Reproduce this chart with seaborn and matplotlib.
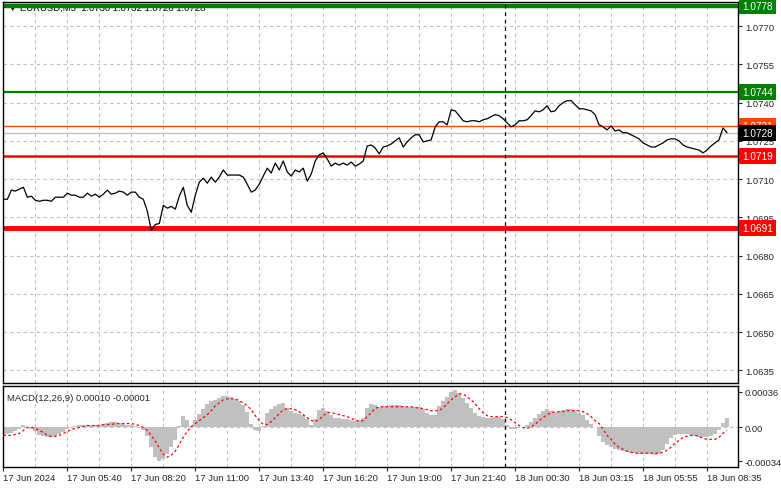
import matplotlib
matplotlib.use("Agg")
from matplotlib import pyplot as plt
import matplotlib.transforms as mtransforms
import numpy as np
import pandas as pd
import seaborn as sns

# EURUSD M5 closes, one value every 10 minutes
close = [
    1.07021, 1.07021, 1.07057, 1.07053, 1.07061, 1.07068, 1.07029, 1.07033, 1.07017, 1.07013,
    1.07017, 1.07017, 1.07013, 1.07029, 1.07029, 1.07029, 1.07045, 1.07037, 1.07037, 1.07029,
    1.07029, 1.07045, 1.07033, 1.07041, 1.07029, 1.07041, 1.07057, 1.07041, 1.07045, 1.07053,
    1.07049, 1.07037, 1.07049, 1.07049, 1.07029, 1.07021, 1.06974, 1.06899, 1.06922, 1.06926,
    1.06997, 1.06986, 1.06993, 1.06982, 1.07033, 1.07068, 1.06997, 1.06970, 1.07037, 1.07088,
    1.07104, 1.07084, 1.07108, 1.07088, 1.07108, 1.07136, 1.07116, 1.07116, 1.07116, 1.07116,
    1.07108, 1.07080, 1.07049, 1.07057, 1.07080, 1.07112, 1.07143, 1.07124, 1.07163, 1.07136,
    1.07171, 1.07128, 1.07112, 1.07136, 1.07128, 1.07143, 1.07092, 1.07120, 1.07171, 1.07195,
    1.07203, 1.07179, 1.07151, 1.07163, 1.07155, 1.07163, 1.07155, 1.07167, 1.07151, 1.07159,
    1.07171, 1.07230, 1.07234, 1.07222, 1.07199, 1.07226, 1.07230, 1.07238, 1.07250, 1.07262,
    1.07226, 1.07246, 1.07262, 1.07274, 1.07274, 1.07246, 1.07250, 1.07254, 1.07305, 1.07325,
    1.07325, 1.07313, 1.07372, 1.07368, 1.07349, 1.07329, 1.07325, 1.07329, 1.07329, 1.07325,
    1.07333, 1.07337, 1.07345, 1.07353, 1.07349, 1.07337, 1.07321, 1.07305, 1.07313, 1.07329,
    1.07329, 1.07333, 1.07349, 1.07368, 1.07364, 1.07372, 1.07388, 1.07364, 1.07368, 1.07388,
    1.07400, 1.07408, 1.07408, 1.07392, 1.07376, 1.07376, 1.07372, 1.07368, 1.07353, 1.07313,
    1.07305, 1.07293, 1.07309, 1.07289, 1.07293, 1.07282, 1.07282, 1.07274, 1.07266, 1.07258,
    1.07242, 1.07234, 1.07226, 1.07226, 1.07234, 1.07242, 1.07254, 1.07258, 1.07258, 1.07250,
    1.07234, 1.07226, 1.07222, 1.07218, 1.07214, 1.07203, 1.07214, 1.07230, 1.07242, 1.07254,
    1.07301, 1.07282,
]

# MACD(12,26,9) main (histogram) and signal
macd_main = [
    -0.00008, -0.00007, -0.00006, -0.00004, -0.00002, 0.00003, 0.00000, -0.00002, -0.00004, -0.00008,
    -0.00009, -0.00010, -0.00010, -0.00009, -0.00007, -0.00005, -0.00002, 0.00001, 0.00002, 0.00003,
    0.00003, 0.00003, 0.00003, 0.00003, 0.00003, 0.00004, 0.00005, 0.00006, 0.00006, 0.00005,
    0.00004, 0.00003, 0.00003, 0.00002, 0.00000, -0.00003, -0.00009, -0.00020, -0.00030, -0.00034,
    -0.00032, -0.00027, -0.00020, -0.00013, 0.00002, 0.00012, 0.00008, 0.00002, 0.00008, 0.00014,
    0.00019, 0.00024, 0.00027, 0.00028, 0.00030, 0.00032, 0.00032, 0.00031, 0.00029, 0.00027,
    0.00023, 0.00016, 0.00004, -0.00003, -0.00004, 0.00002, 0.00015, 0.00019, 0.00022, 0.00024,
    0.00025, 0.00020, 0.00017, 0.00015, 0.00014, 0.00013, 0.00009, 0.00003, 0.00009, 0.00018,
    0.00020, 0.00017, 0.00013, 0.00010, 0.00010, 0.00009, 0.00009, 0.00008, 0.00007, 0.00008,
    0.00010, 0.00020, 0.00024, 0.00023, 0.00021, 0.00022, 0.00022, 0.00023, 0.00023, 0.00023,
    0.00022, 0.00021, 0.00021, 0.00021, 0.00021, 0.00019, 0.00015, 0.00013, 0.00013, 0.00022,
    0.00027, 0.00031, 0.00036, 0.00038, 0.00035, 0.00030, 0.00025, 0.00020, 0.00015, 0.00012,
    0.00011, 0.00010, 0.00010, 0.00011, 0.00011, 0.00009, 0.00003, -0.00002, -0.00002, 0.00000,
    0.00001, 0.00003, 0.00006, 0.00010, 0.00014, 0.00017, 0.00019, 0.00017, 0.00016, 0.00017,
    0.00018, 0.00019, 0.00019, 0.00018, 0.00015, 0.00013, 0.00008, 0.00004, 0.00000, -0.00009,
    -0.00015, -0.00018, -0.00020, -0.00022, -0.00023, -0.00024, -0.00025, -0.00026, -0.00026, -0.00027,
    -0.00027, -0.00027, -0.00027, -0.00028, -0.00027, -0.00023, -0.00017, -0.00011, -0.00008, -0.00007,
    -0.00007, -0.00007, -0.00008, -0.00009, -0.00010, -0.00010, -0.00010, -0.00009, -0.00007, -0.00003,
    0.00005, 0.00010,
]
macd_signal = [
    -0.00008, -0.00008, -0.00008, -0.00007, -0.00006, -0.00003, 0.00000, 0.00000, -0.00001, -0.00003,
    -0.00005, -0.00008, -0.00009, -0.00009, -0.00008, -0.00006, -0.00004, -0.00002, -0.00001, 0.00000,
    0.00001, 0.00002, 0.00002, 0.00002, 0.00002, 0.00003, 0.00003, 0.00003, 0.00004, 0.00004,
    0.00004, 0.00004, 0.00004, 0.00003, 0.00002, 0.00000, -0.00003, -0.00008, -0.00014, -0.00021,
    -0.00027, -0.00030, -0.00028, -0.00024, -0.00017, -0.00010, -0.00004, 0.00001, 0.00004, 0.00007,
    0.00010, 0.00013, 0.00017, 0.00022, 0.00025, 0.00028, 0.00029, 0.00029, 0.00029, 0.00027,
    0.00025, 0.00022, 0.00018, 0.00012, 0.00007, 0.00003, 0.00003, 0.00006, 0.00010, 0.00014,
    0.00018, 0.00019, 0.00019, 0.00018, 0.00016, 0.00013, 0.00010, 0.00007, 0.00006, 0.00008,
    0.00012, 0.00015, 0.00015, 0.00014, 0.00013, 0.00012, 0.00011, 0.00009, 0.00008, 0.00006,
    0.00007, 0.00011, 0.00015, 0.00019, 0.00021, 0.00021, 0.00021, 0.00021, 0.00021, 0.00021,
    0.00021, 0.00021, 0.00021, 0.00020, 0.00020, 0.00019, 0.00018, 0.00017, 0.00017, 0.00017,
    0.00020, 0.00024, 0.00028, 0.00031, 0.00034, 0.00034, 0.00031, 0.00028, 0.00024, 0.00019,
    0.00015, 0.00012, 0.00011, 0.00011, 0.00011, 0.00011, 0.00010, 0.00008, 0.00005, 0.00002,
    0.00000, -0.00001, 0.00001, 0.00003, 0.00007, 0.00010, 0.00013, 0.00015, 0.00016, 0.00016,
    0.00016, 0.00017, 0.00017, 0.00017, 0.00017, 0.00016, 0.00014, 0.00011, 0.00007, 0.00004,
    -0.00002, -0.00008, -0.00012, -0.00017, -0.00020, -0.00022, -0.00024, -0.00025, -0.00026, -0.00026,
    -0.00026, -0.00026, -0.00026, -0.00026, -0.00026, -0.00025, -0.00023, -0.00020, -0.00016, -0.00013,
    -0.00010, -0.00009, -0.00008, -0.00008, -0.00009, -0.00011, -0.00012, -0.00012, -0.00012, -0.00010,
    -0.00006, -0.00003,
]

time_labels = ["17 Jun 2024", "17 Jun 05:40", "17 Jun 08:20", "17 Jun 11:00", "17 Jun 13:40",
               "17 Jun 16:20", "17 Jun 19:00", "17 Jun 21:40", "18 Jun 00:30", "18 Jun 03:15",
               "18 Jun 05:55", "18 Jun 08:35"]
price_ticks = [1.0635, 1.0650, 1.0665, 1.0680, 1.0695, 1.0710, 1.0725, 1.0740, 1.0755, 1.0770]
macd_ticks = [-0.00034, 0.0, 0.00036]

levels = [1.0778, 1.0744, 1.0731, 1.0728, 1.0719, 1.0691]
level_colors = ["#008000", "#008000", "#FF4500", "#C0C0C0", "#FF0000", "#FF0000"]
level_widths = [3.2, 1.6, 1.0, 1.0, 1.8, 3.5]
label_bg = ["#008000", "#008000", "#FF4500", "#000000", "#FF0000", "#FF0000"]

df = pd.DataFrame({"bar": np.arange(len(close)), "close": close})
dm = pd.DataFrame({"bar": np.arange(len(macd_main)), "main": macd_main})
ds = pd.DataFrame({"bar": np.arange(len(macd_signal)), "signal": macd_signal})

sns.set_style("white")
plt.rcParams["font.family"] = ["Liberation Sans", "DejaVu Sans"]
FS = 6.8

fig = plt.figure(figsize=(7.81, 4.89), dpi=100)
ax = fig.add_axes([3 / 781, 1 - 384 / 489, 735 / 781, 381 / 489])
axm = fig.add_axes([3 / 781, 1 - 468 / 489, 735 / 781, 81 / 489])

xmax = 183.75
grid_x = np.arange(8, 184, 8)
label_x = np.arange(0, 16 * len(time_labels), 16)

# ---- price panel
for a in (ax, axm):
    for gx in grid_x:
        a.axvline(gx, color="#C0C0C0", lw=0.8, ls=(0, (3, 3)), zorder=0)
for py in price_ticks:
    ax.axhline(py, color="#C0C0C0", lw=0.8, ls=(0, (3, 3)), zorder=0)

ax.text(0.007, 0.987, "\u25bc EURUSD,M5  1.0730 1.0732 1.0726 1.0728", transform=ax.transAxes,
        fontsize=FS, va="center", ha="left", color="black", zorder=1)

for lv, c, w in zip(levels, level_colors, level_widths):
    ax.axhline(lv, color=c, lw=w, zorder=2)

sns.lineplot(data=df, x="bar", y="close", ax=ax, color="black", lw=0.9, zorder=3)

ax.set_xlim(-0.1, xmax)
ax.set_ylim(1.06300, 1.07795)
ax.yaxis.tick_right()
ax.set_yticks(price_ticks)
ax.set_yticklabels([f"{p:.4f}" for p in price_ticks], fontsize=FS)
ax.tick_params(axis="y", direction="out", length=3, width=0.8, pad=2, right=True, left=False)
ax.set_xticks([])
ax.set_xlabel("")
ax.set_ylabel("")

trans = mtransforms.blended_transform_factory(ax.transAxes, ax.transData)
for lv, bg in zip(levels, label_bg):
    ax.text(1.006, lv, f"{lv:.4f}", transform=trans, fontsize=7.2, color="white",
            va="center", ha="left", zorder=10, clip_on=False,
            bbox=dict(boxstyle="square,pad=0.3", fc=bg, ec="none"))

# ---- MACD panel
axm.axhline(0, color="#C0C0C0", lw=0.8, ls=(0, (3, 3)), zorder=0)
axm.bar(dm["bar"], dm["main"], width=1.0, color="#C0C0C0", linewidth=0, zorder=2)
sns.lineplot(data=ds, x="bar", y="signal", ax=axm, color="#FF0000", lw=0.9,
             linestyle=(0, (2, 2)), zorder=3)
axm.text(0.005, 0.86, "MACD(12,26,9) 0.00010 -0.00001", transform=axm.transAxes,
         fontsize=FS, va="center", ha="left")

axm.set_xlim(-0.1, xmax)
axm.set_ylim(-0.00040, 0.00042)
axm.yaxis.tick_right()
axm.set_yticks(macd_ticks)
axm.set_yticklabels(["-0.00034", "0.00", "0.00036"], fontsize=FS)
axm.tick_params(axis="y", direction="out", length=3, width=0.8, pad=2, right=True, left=False)
axm.set_xticks(label_x)
axm.set_xticklabels(time_labels, fontsize=FS, ha="left")
axm.tick_params(axis="x", direction="out", length=3, width=0.8, pad=1, bottom=True)
axm.set_xlabel("")
axm.set_ylabel("")

# separator through both panels
for a in (ax, axm):
    a.axvline(125.5, color="black", lw=0.9, ls=(0, (3, 3)), zorder=4)
    for s in a.spines.values():
        s.set_color("black")
        s.set_linewidth(1.0)

fig.savefig("out.png", dpi=100)
